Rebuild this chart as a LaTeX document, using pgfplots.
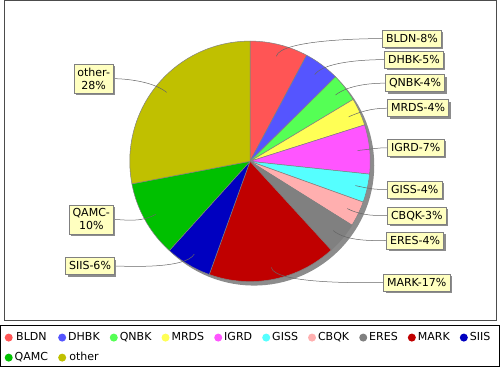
\documentclass[border=0pt]{standalone}
\usepackage{fontspec}
\setmainfont{DejaVu Sans}
\usepackage{pgfplots}
\pgfplotsset{compat=1.18}
\usetikzlibrary{shadows}

\definecolor{cBLDN}{RGB}{255,85,85}
\definecolor{cDHBK}{RGB}{85,85,255}
\definecolor{cQNBK}{RGB}{85,255,85}
\definecolor{cMRDS}{RGB}{255,255,85}
\definecolor{cIGRD}{RGB}{255,85,255}
\definecolor{cGISS}{RGB}{85,255,255}
\definecolor{cCBQK}{RGB}{255,175,175}
\definecolor{cERES}{RGB}{128,128,128}
\definecolor{cMARK}{RGB}{192,0,0}
\definecolor{cSIIS}{RGB}{0,0,192}
\definecolor{cQAMC}{RGB}{0,192,0}
\definecolor{cother}{RGB}{192,192,0}
\definecolor{lblbg}{RGB}{255,255,192}
\definecolor{shd}{RGB}{140,140,140}

% slice: start %, end % (cumulative), colour, name
\newcommand{\slice}[4]{%
  \addplot[fill=#3, draw=gray, line width=0.5bp, domain={90-3.6*#2}:{90-3.6*#1}, samples=50]
    ({250+120*cos(x)},{163-120*sin(x)}) -- (250,163) -- cycle;
  \addlegendentry{#4}
}
% leader: target, anchor, elbow, link
\newcommand{\lead}[8]{\draw[black!60, line width=0.5bp] (#1,#2) .. controls (#3,#4) and (#5,#6) .. (#7,#8);}

\tikzset{
  lbl/.style={fill=lblbg, draw=gray, line width=0.5bp, inner xsep=3.5bp, inner ysep=4bp,
    text height=8.2bp, text depth=0.8bp, font=\fontsize{11bp}{13bp}\selectfont,
    drop shadow={shadow xshift=2bp, shadow yshift=-2bp, fill=shd, opacity=1}},
  lbltwo/.style={fill=lblbg, draw=gray, line width=0.5bp, inner xsep=3.5bp, inner ysep=4bp,
    align=center, font=\fontsize{11bp}{13bp}\selectfont,
    drop shadow={shadow xshift=2bp, shadow yshift=-2bp, fill=shd, opacity=1}}
}

\begin{document}
\begin{tikzpicture}
\begin{axis}[
  scale only axis, width=500bp, height=370bp,
  xmin=0, xmax=500, ymin=0, ymax=370, y dir=reverse,
  hide axis, clip=false,
  legend columns=10,
  legend image code/.code={\fill[#1, draw=none] (4bp,0bp) circle (4bp);},
  legend style={at={(axis cs:5,333.7)}, anchor=north west, draw=none, fill=none, inner sep=0pt,
    font=\fontsize{11bp}{13bp}\selectfont, row sep=10bp, column sep=0pt,
    /tikz/every even column/.append style={column sep=8bp},
    nodes={inner xsep=2bp, inner ysep=0pt, text height=8bp, text depth=2bp}},
]
% frames
\draw[black!70, line width=1bp] (5,2.5) rectangle (495.5,321.5);
\draw[black, line width=1bp] (1,327) rectangle (499,367.5);
% shadow of pie
\addplot[forget plot, fill=shd, draw=none, domain=0:360, samples=120]
  ({254+120*cos(x)},{167-120*sin(x)}) -- cycle;
% slices (cumulative percent)
\slice{0}{7.8}{cBLDN}{BLDN}
\slice{7.8}{12.6}{cDHBK}{DHBK}
\slice{12.6}{16.4}{cQNBK}{QNBK}
\slice{16.4}{20.1}{cMRDS}{MRDS}
\slice{20.1}{26.7}{cIGRD}{IGRD}
\slice{26.7}{30.5}{cGISS}{GISS}
\slice{30.5}{33.9}{cCBQK}{CBQK}
\slice{33.9}{38.2}{cERES}{ERES}
\slice{38.2}{55.5}{cMARK}{MARK}
\slice{55.5}{61.7}{cSIIS}{SIIS}
\slice{61.7}{72.0}{cQAMC}{QAMC}
\slice{72.0}{100}{cother}{other}
% leader lines
\lead{382}{40.5}{372}{40.5}{280.6}{40.8}{276.2}{58.2}
\lead{384}{61.5}{374}{61.5}{325.3}{62.0}{314.6}{76.4}
\lead{385}{85}{375}{85}{349.6}{85.8}{335.3}{96.8}
\lead{387}{110}{377}{110}{364.8}{111.2}{348.4}{118.6}
\lead{387}{149.5}{377}{149.5}{375.4}{150.3}{357.5}{152.2}
\lead{387}{191}{377}{191}{372.8}{191.3}{355.2}{187.2}
\lead{387}{217}{377}{217}{363.3}{218.1}{347.1}{210.2}
\lead{386}{242}{376}{242}{346.8}{243.6}{333.0}{232.1}
\lead{383}{284}{373}{284}{274.8}{286.5}{271.2}{268.9}
\lead{115}{267.5}{125}{267.5}{185.2}{271.0}{194.4}{255.6}
\lead{114}{221}{124}{221}{140.2}{224.7}{155.9}{215.9}
\lead{114}{80.5}{124}{80.5}{152.9}{82.7}{166.8}{94.2}
% labels
\node[lbl, anchor=west] at (382,40.5) {BLDN-8\%};
\node[lbl, anchor=west] at (384,61.5) {DHBK-5\%};
\node[lbl, anchor=west] at (385,85) {QNBK-4\%};
\node[lbl, anchor=west] at (387,110) {MRDS-4\%};
\node[lbl, anchor=west] at (387,149.5) {IGRD-7\%};
\node[lbl, anchor=west] at (387,191) {GISS-4\%};
\node[lbl, anchor=west] at (387,217) {CBQK-3\%};
\node[lbl, anchor=west] at (386,242) {ERES-4\%};
\node[lbl, anchor=west] at (383,284) {MARK-17\%};
\node[lbltwo, anchor=east] at (114,80.5) {other-\\28\%};
\node[lbltwo, anchor=east] at (114,221) {QAMC-\\10\%};
\node[lbl, anchor=east] at (115,267.5) {SIIS-6\%};
\end{axis}
\end{tikzpicture}
\end{document}
